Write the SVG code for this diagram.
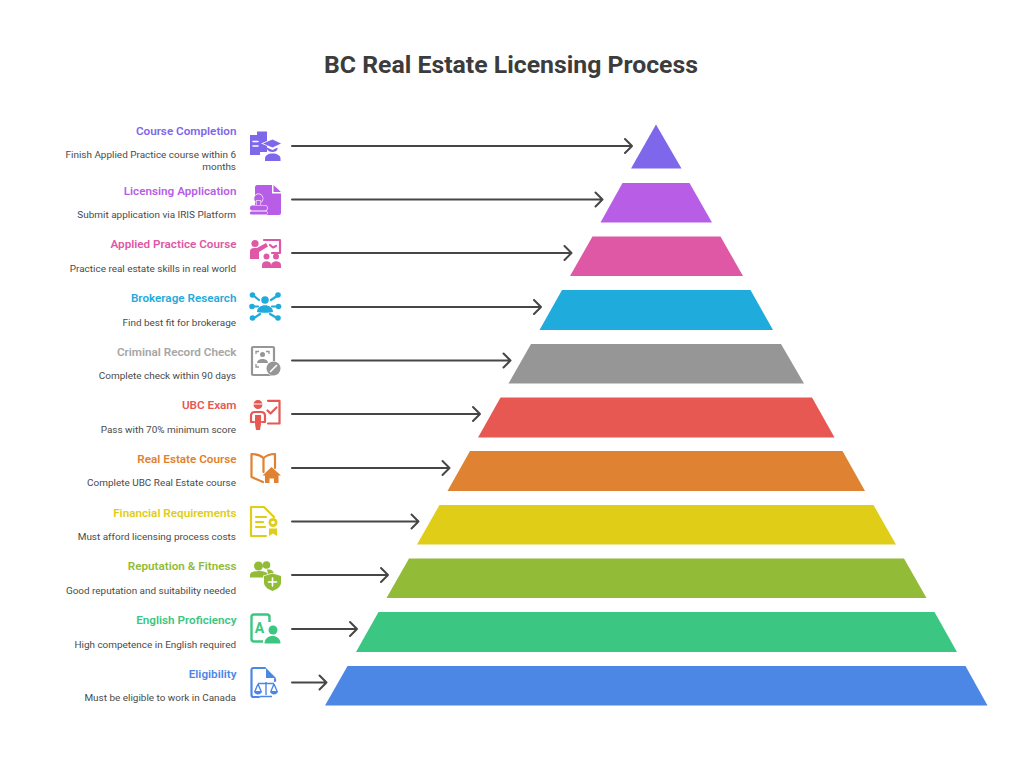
<svg xmlns="http://www.w3.org/2000/svg" width="1024" height="775" viewBox="0 0 1024 775">
<style>
text{font-family:Roboto,"Liberation Sans",sans-serif}
.title{font-size:24.8px;font-weight:700;fill:#3c3c3c;text-anchor:middle}
.h{font-size:11.7px;font-weight:600;text-anchor:end}
.d{font-size:9.95px;fill:#4a4a4a;text-anchor:end}
.arrow{fill:none;stroke:#464646;stroke-width:2;stroke-linecap:round;stroke-linejoin:round}
.ln{fill:none;stroke-width:2.200;stroke-linecap:round;stroke-linejoin:round}
.wl{fill:none;stroke:#fff;stroke-width:1.600;stroke-linecap:round}
.halo{stroke:#fff;stroke-width:1.500;paint-order:stroke}
</style>
<rect width="1024" height="775" fill="#fff"/>
<text class="title" x="511" y="73">BC Real Estate Licensing Process</text>
<g id="connectors">
<path class="arrow" d="M292 146H632M625 139L632 146L625 153"/>
<path class="arrow" d="M292 199.500H602.500M595.500 192.500L602.500 199.500L595.500 206.500"/>
<path class="arrow" d="M292 253H571.500M564.500 246L571.500 253L564.500 260"/>
<path class="arrow" d="M292 307H541M534 300L541 307L534 314"/>
<path class="arrow" d="M292 360.500H510.500M503.500 353.500L510.500 360.500L503.500 367.500"/>
<path class="arrow" d="M292 414H480M473 407L480 414L473 421"/>
<path class="arrow" d="M292 468H449.500M442.500 461L449.500 468L442.500 475"/>
<path class="arrow" d="M292 521.500H418.500M411.500 514.500L418.500 521.500L411.500 528.500"/>
<path class="arrow" d="M292 575H388M381 568L388 575L381 582"/>
<path class="arrow" d="M292 629H357M350 622L357 629L350 636"/>
<path class="arrow" d="M292 682.500H326.500M319.500 675.500L326.500 682.500L319.500 689.500"/>
</g>
<g id="node-course-completion">
<path d="M656 124.500L681.500 168.500H631Z" fill="#7e67ea"/>
<text class="h" fill="#7e67ea" x="236.500" y="135">Course Completion</text>
<text class="d" x="236" y="158">Finish Applied Practice course within 6</text>
<text class="d" x="236" y="170">months</text>
<g fill="#7e67ea">
<path d="M250 135H257V131.500H267V152H260V155H250Z"/>
<path class="wl" d="M253 141.500H258M253 146H258" fill="none"/>
<path class="halo" d="M263 143.500L272.500 139.500L281 143.500L272.500 147.500Z"/>
<path d="M267 147.500L272.500 150L277.500 147.500V149C277 153 268 153 267 149Z"/>
<path d="M265 161V158.500C265 155.500 268 153.500 272.500 153.500C277 153.500 280.500 155.500 280.500 158.500V161Z"/>
</g>
</g>
<g id="node-licensing-application">
<path d="M622.500 183H689.500L712 222.500H600.500Z" fill="#b85ee6"/>
<text class="h" fill="#b85ee6" x="236.500" y="195">Licensing Application</text>
<text class="d" x="236" y="218">Submit application via IRIS Platform</text>
<g fill="#b85ee6">
<path d="M257 185H272V193.500H281V213C281 214 280 215 279 215H257C256 215 255 214 255 213V187C255 186 256 185 257 185Z"/>
<path d="M273.500 185L281 192H273.500Z"/>
<g stroke="#fff" stroke-width="1.200" paint-order="stroke">
<circle cx="258.500" cy="198.500" r="4.300"/>
<rect x="256.500" y="201" width="4" height="5"/>
<rect x="250" y="205.500" width="17" height="5" rx="2"/>
<rect x="250" y="211.500" width="17" height="3" rx="1.200"/>
</g>
</g>
</g>
<g id="node-applied-practice-course">
<path d="M592.500 236.500H720.500L743 276H570Z" fill="#df58a6"/>
<text class="h" fill="#df58a6" x="236.500" y="248">Applied Practice Course</text>
<text class="d" x="236" y="271.500">Practice real estate skills in real world</text>
<path class="ln" d="M264 240H280V253H272" stroke="#df58a6"/>
<path class="ln" d="M270 245L273 247.500L276 246" stroke="#df58a6" stroke-width="1.300"/>
<g fill="#df58a6">
<circle cx="255" cy="243.500" r="3.600"/>
<path d="M250 258V251C250 249 252 248 254 248H257L266 243L268 246.500L259 252V259H250Z"/>
<circle cx="266.500" cy="256.500" r="3"/><circle cx="276" cy="256.500" r="3"/>
<path d="M262 268V265C262 260 271 260 271.200 265C271.500 260 281 260 281 265V268Z"/>
</g>
</g>
<g id="node-brokerage-research">
<path d="M562 290H750.500L773 330H539.500Z" fill="#1fabdc"/>
<text class="h" fill="#1fabdc" x="236.500" y="302">Brokerage Research</text>
<text class="d" x="236" y="325.500">Find best fit for brokerage</text>
<g fill="#1fabdc">
<circle cx="265" cy="300" r="3.800"/>
<path d="M257 312C257 303 273 303 273 312C270 313 260 313 257 312Z"/>
<circle cx="252.500" cy="295" r="2.800"/><circle cx="278" cy="295" r="2.800"/>
<circle cx="252" cy="306.500" r="2.800"/><circle cx="278.500" cy="306.500" r="2.800"/>
<circle cx="252.500" cy="318" r="2.800"/><circle cx="278" cy="318" r="2.800"/>
</g>
<path class="ln" stroke="#1fabdc" d="M254 296L259 300M277 296L271 300M254 306.500H258M277 306.500H272M254 318L260 314M277 318L270 314"/>
</g>
<g id="node-criminal-record-check">
<path d="M531 344H781L804 383.500H508.500Z" fill="#969696"/>
<text class="h" fill="#a6a6a6" x="236.500" y="355.500">Criminal Record Check</text>
<text class="d" x="236" y="379">Complete check within 90 days</text>
<rect class="ln" stroke="#969696" x="252" y="347" width="22" height="28" rx="1"/>
<path fill="none" stroke="#969696" stroke-width="1.300" d="M256 354V351.500H259M266 351.500H269V354M256 364V367H259"/>
<circle cx="262.500" cy="354.500" r="2.500" fill="#969696"/>
<path d="M257 363C257 357.500 268 357.500 268 363Z" fill="#969696"/>
<circle cx="273.500" cy="368.500" r="7" fill="#969696" stroke="#fff" stroke-width="1.200" paint-order="stroke"/>
<path d="M270.500 371.500L276.500 365.500" class="wl" stroke-width="2"/>
</g>
<g id="node-ubc-exam">
<path d="M500.500 397.500H812L834.500 437.500H478Z" fill="#e75853"/>
<text class="h" fill="#e75853" x="236.500" y="409">UBC Exam</text>
<text class="d" x="236" y="432.500">Pass with 70% minimum score</text>
<circle cx="258" cy="404.500" r="4.500" fill="#e75853"/>
<path d="M253 404H263" stroke="#fff" stroke-width="1"/>
<path class="ln" stroke="#e75853" d="M255 412H261C264 412 265 414 265 416V422H262M254 422H251V416C251 414 252 412 255 412"/>
<path fill="#e75853" d="M255 415H261V424L260 430H256L255 424Z"/>
<path class="ln" stroke="#e75853" d="M268 400.800H279.500V423.500H268"/>
<path class="ln" stroke="#e75853" stroke-width="1.800" d="M267.500 410.500L270.500 413.500L276.500 407.500"/>
</g>
<g id="node-real-estate-course">
<path d="M470 451H842.500L865 491H447.500Z" fill="#df8231"/>
<text class="h" fill="#df8231" x="236.500" y="462.500">Real Estate Course</text>
<text class="d" x="236" y="486">Complete UBC Real Estate course</text>
<path class="ln" stroke="#df8231" stroke-width="2.400" d="M263.500 458C260 455 256 454 251.500 454V477L263 482M263.500 458V472M263.500 458C267 455 271 454 275 454V468"/>
<path fill="#df8231" d="M271.500 467L281 475.500H278.500V483H274V478.500H269.500V483H265V475.500H262.500Z"/>
</g>
<g id="node-financial-requirements">
<path d="M439.500 505H873.500L896 544.500H417Z" fill="#e0cd18"/>
<text class="h" fill="#e0cd18" x="236.500" y="516.500">Financial Requirements</text>
<text class="d" x="236" y="540">Must afford licensing process costs</text>
<path class="ln" stroke="#e0cd18" d="M266 536H251V507H264L274 517M256 517H266M256 522H263M256 527H265"/>
<circle cx="273" cy="522.500" r="4.500" fill="#e0cd18"/>
<circle cx="273" cy="522.500" r="1.800" fill="#fff"/>
<path d="M269 528.500V536L273 533.500L277 536V528.500Z" fill="#e0cd18"/>
</g>
<g id="node-reputation-fitness">
<path d="M409 558.500H904L926.500 598H386.500Z" fill="#92bc38"/>
<text class="h" fill="#92bc38" x="236.500" y="570">Reputation &amp; Fitness</text>
<text class="d" x="236" y="593.500">Good reputation and suitability needed</text>
<g fill="#92bc38">
<circle cx="266.500" cy="565" r="3.800"/>
<path d="M267 569.500C271 569 274 571 274 574H268Z"/>
<circle cx="258.500" cy="566" r="4.500"/>
<path d="M250 577.500V575C250 569.500 268 569.500 268 575V577.500Z"/>
<path class="halo" d="M272.500 573.500L281 576V582.500C281 586.500 277 589.500 272.500 591C268 589.500 264 586.500 264 582.500V576Z"/>
</g>
<path class="wl" stroke-width="1.800" d="M272.500 578V586M268.500 582H276.500"/>
</g>
<g id="node-english-proficiency">
<path d="M378.500 612H934.500L957 652H356Z" fill="#3bc682"/>
<text class="h" fill="#3bc682" x="236.500" y="623.500">English Proficiency</text>
<text class="d" x="236" y="647.500">High competence in English required</text>
<path d="M269.500 622V617C269.500 615.500 268.500 614.500 267 614.500H254C252.500 614.500 251.500 615.500 251.500 617V639C251.500 640.500 252.500 641.500 254 641.500H263" fill="none" stroke="#3bc682" stroke-width="2.400"/>
<text x="259.500" y="632.500" font-size="14" font-weight="700" fill="#3bc682" text-anchor="middle">A</text>
<circle cx="273" cy="630" r="4.500" fill="#3bc682"/>
<path d="M264.500 643.500C264.500 633.500 280.500 633.500 280.500 643.500Z" fill="#3bc682"/>
</g>
<g id="node-eligibility">
<path d="M347.500 666H965.500L987.500 705.500H325Z" fill="#4d87e6"/>
<text class="h" fill="#4d87e6" x="236.500" y="677.500">Eligibility</text>
<text class="d" x="236" y="701">Must be eligible to work in Canada</text>
<path class="ln" stroke="#4d87e6" d="M259 697H253.500C252.500 697 251.500 696 251.500 695V670C251.500 669 252.500 668 253.500 668H265M275 679V681"/>
<path fill="#4d87e6" d="M266 668L276 678H266Z"/>
<path fill="none" stroke="#4d87e6" stroke-width="1.400" d="M266 682V695M260 696.500H272M258 683.500H274M258 684L255 691M258 684L261 691M274 684L271 691M274 684L277 691"/>
<path fill="#4d87e6" d="M254 691H262C262 695.500 254 695.500 254 691ZM270 691H278C278 695.500 270 695.500 270 691Z"/>
</g>
</svg>
